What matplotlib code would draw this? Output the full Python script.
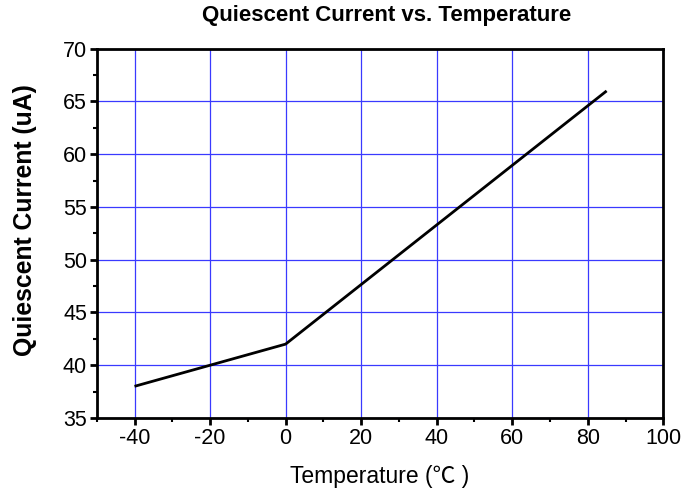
import matplotlib
matplotlib.use("Agg")
import matplotlib.pyplot as plt
from matplotlib.ticker import MultipleLocator

temperature = [-40, -20, 0, 85]
current = [38.0, 40.0, 42.0, 66.0]
x_ticks = [-40, -20, 0, 20, 40, 60, 80, 100]
y_ticks = [35, 40, 45, 50, 55, 60, 65, 70]

plt.rcParams['font.family'] = ['Liberation Sans', 'Noto Sans CJK SC', 'DejaVu Sans']
plt.rcParams['axes.unicode_minus'] = False

fig = plt.figure(figsize=(6.96, 4.97), dpi=100)
ax = fig.add_axes([0.139, 0.159, 0.814, 0.743])

ax.plot(temperature, current, color='black', lw=2.0, zorder=3,
        solid_capstyle='butt')

ax.set_xlim(-50, 100)
ax.set_ylim(35, 70)
ax.set_xticks(x_ticks)
ax.set_yticks(y_ticks)
ax.xaxis.set_minor_locator(MultipleLocator(10))
ax.yaxis.set_minor_locator(MultipleLocator(2.5))
ax.grid(True, which='major', color='#3a3aff', lw=0.9, zorder=1)
ax.set_axisbelow(True)

ax.tick_params(which='major', direction='out', length=5, width=2,
               labelsize=15.5, top=False, right=False, pad=2)
ax.tick_params(which='minor', direction='out', length=3, width=1.5,
               top=False, right=False)
for s in ax.spines.values():
    s.set_linewidth(2)

fig.text(0.556, 0.958, "Quiescent Current vs. Temperature", fontsize=16,
         fontweight='bold', ha='center', va='baseline')
ax.set_xlabel("Temperature (℃ )", fontsize=16.5)
ax.xaxis.set_label_coords(0.5, -0.127)
ax.set_ylabel("Quiescent Current (uA)", fontsize=17.8, fontweight='bold')
ax.yaxis.set_label_coords(-0.106, 0.535)

fig.savefig("out.png", dpi=100)
